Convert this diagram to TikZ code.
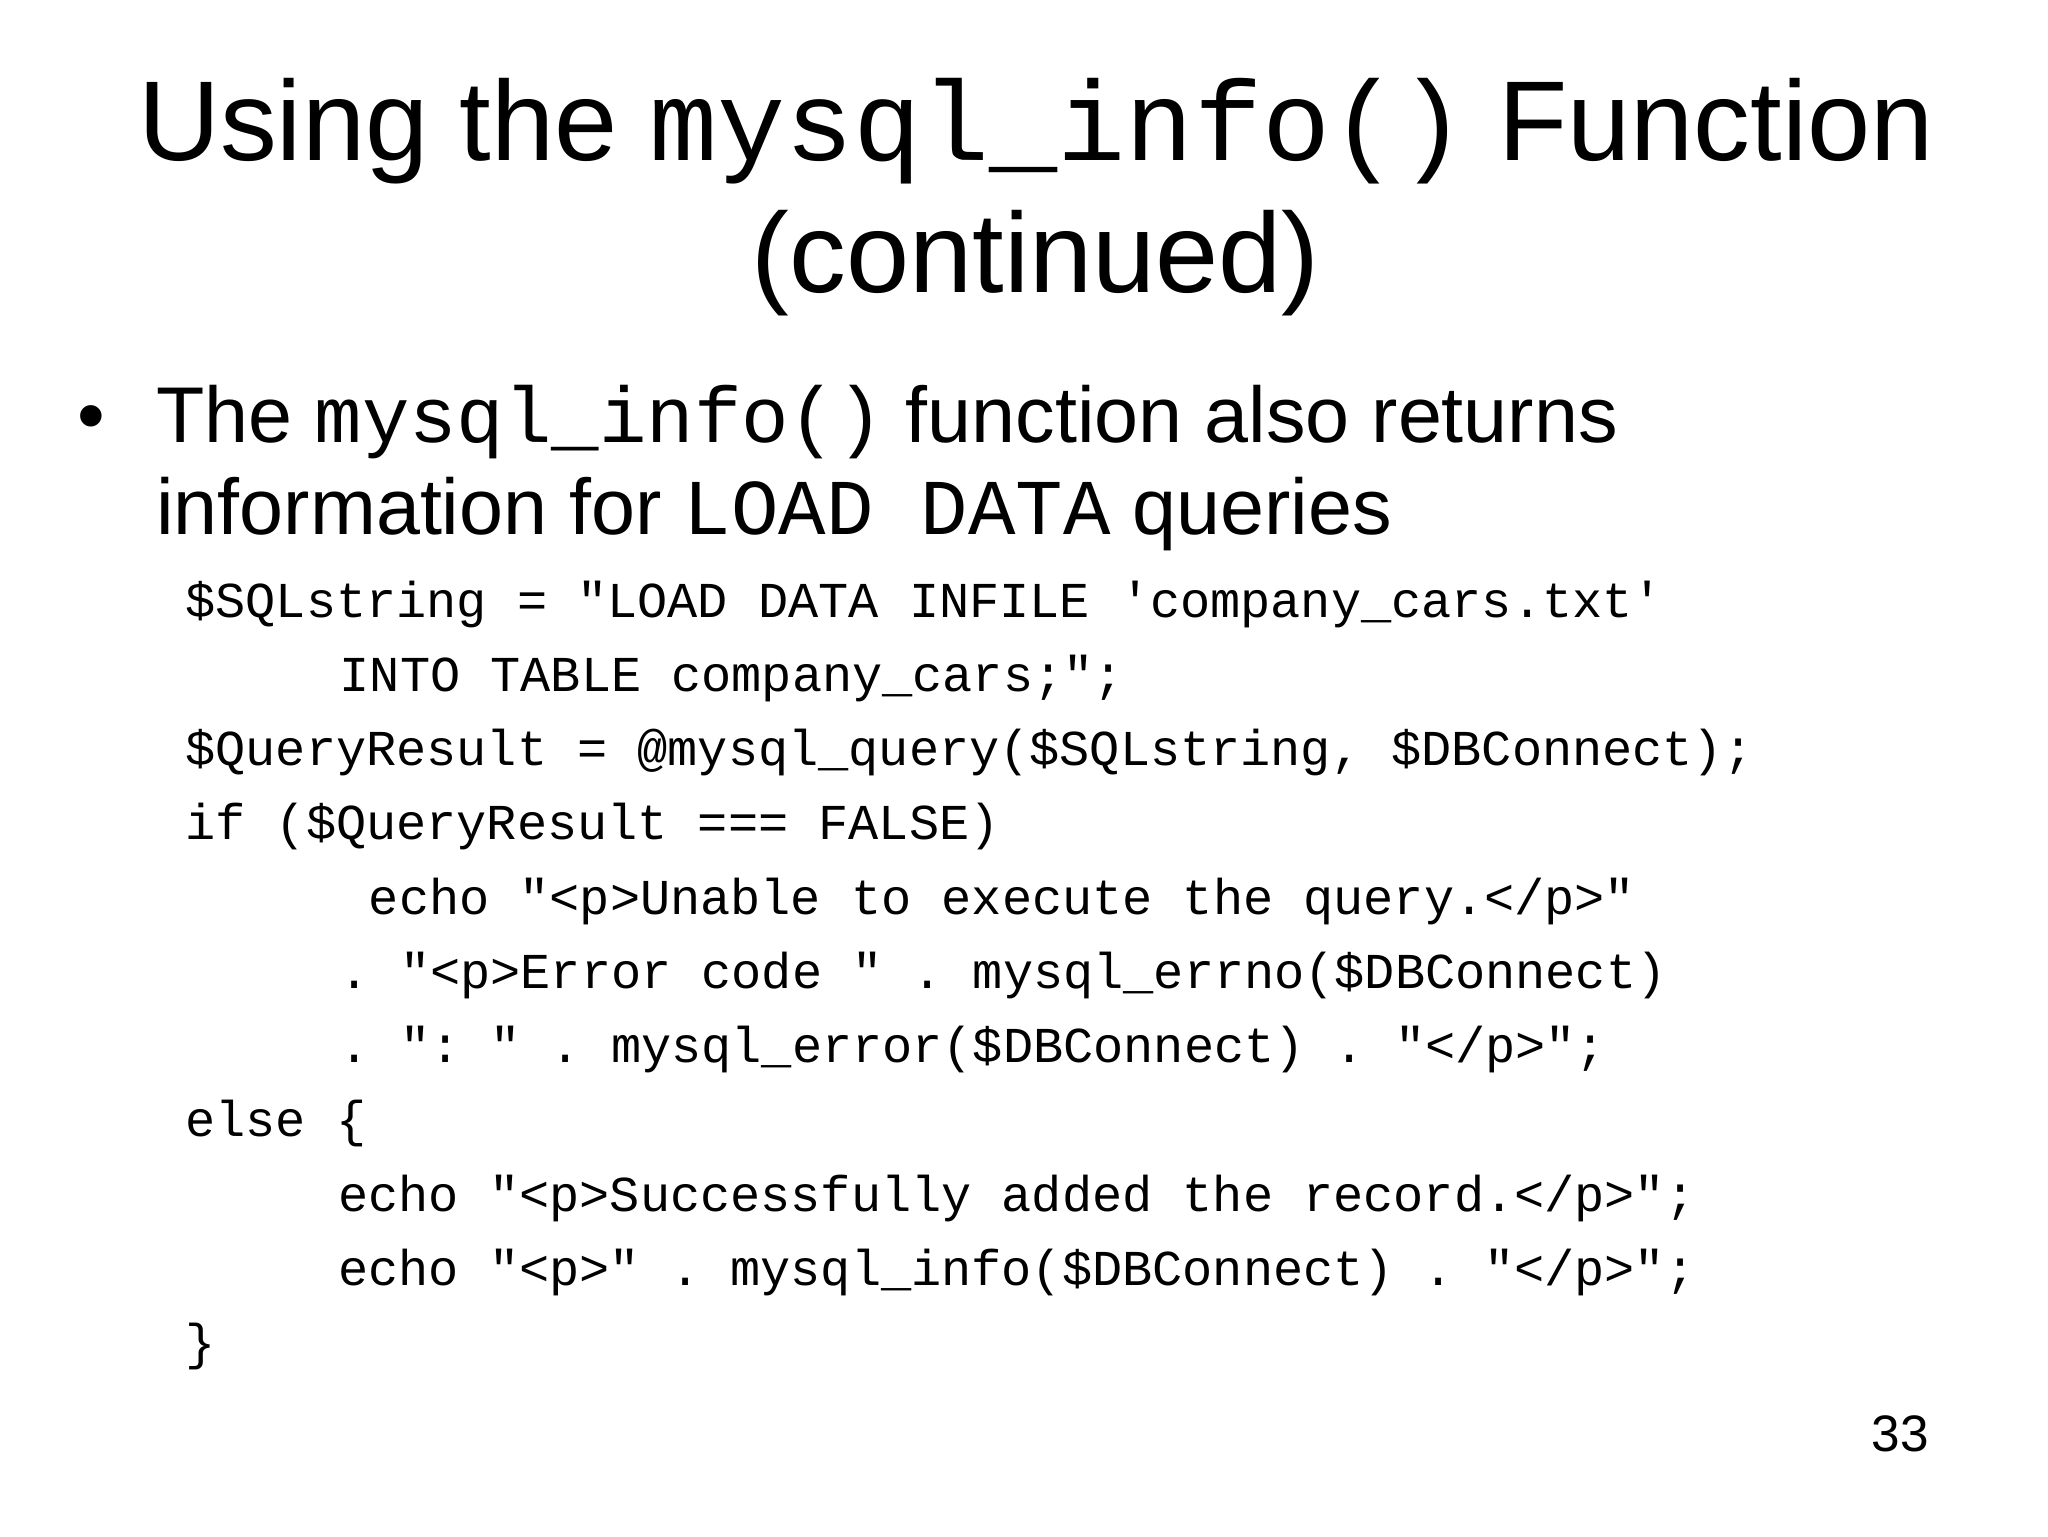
\documentclass[tikz,border=0pt]{standalone}
\usepackage{fontspec}
\setmainfont{Liberation Sans}
\setmonofont{Liberation Mono}
\begin{document}
\begin{tikzpicture}[x=0.013196cm,y=-0.013196cm,
  code/.style={anchor=base west,inner sep=0pt,font=\fontsize{14.3}{17}\selectfont\ttfamily},
  txt/.style={anchor=base west,inner sep=0pt,font=\fontsize{22.5}{27}\selectfont}]
\useasboundingbox[fill=white] (0,0) rectangle (1552,1164);
\node[anchor=base,inner sep=0pt,font=\fontsize{32.3}{36}\selectfont] (t1) at (785,122) {Using the \texttt{mysql\_info()} Function};
\node[anchor=base,inner sep=0pt,font=\fontsize{32.3}{36}\selectfont] (t2) at (785,222) {(continued)};
\node[txt] (b) at (58,335) {\textbullet};
\node[txt] (l1) at (118,335) {The \texttt{mysql\_info()} function also returns};
\node[txt] (l2) at (118,405) {information for \texttt{LOAD DATA} queries};
\node[code] (c1) at (140,468) {\$SQLstring = "LOAD DATA INFILE 'company\_cars.txt'};
\node[code] (c2) at (257,524) {INTO TABLE company\_cars;";};
\node[code] (c3) at (140,580) {\$QueryResult = @mysql\_query(\$SQLstring, \$DBConnect);};
\node[code] (c4) at (140,636) {if (\$QueryResult === FALSE)};
\node[code] (c5) at (279,693) {echo "<p>Unable to execute the query.</p>"};
\node[code] (c6) at (257,749) {. "<p>Error code " . mysql\_errno(\$DBConnect)};
\node[code] (c7) at (257,805) {. ": " . mysql\_error(\$DBConnect) . "</p>";};
\node[code] (c8) at (140,861) {else \{};
\node[code] (c9) at (256,918) {echo "<p>Successfully added the record.</p>";};
\node[code] (c10) at (256,974) {echo "<p>" . mysql\_info(\$DBConnect) . "</p>";};
\node[code] (c11) at (140,1030) {\}};
\node[anchor=base east,inner sep=0pt,font=\fontsize{14.6}{17}\selectfont] (pn) at (1462,1100) {33};
\end{tikzpicture}
\end{document}
